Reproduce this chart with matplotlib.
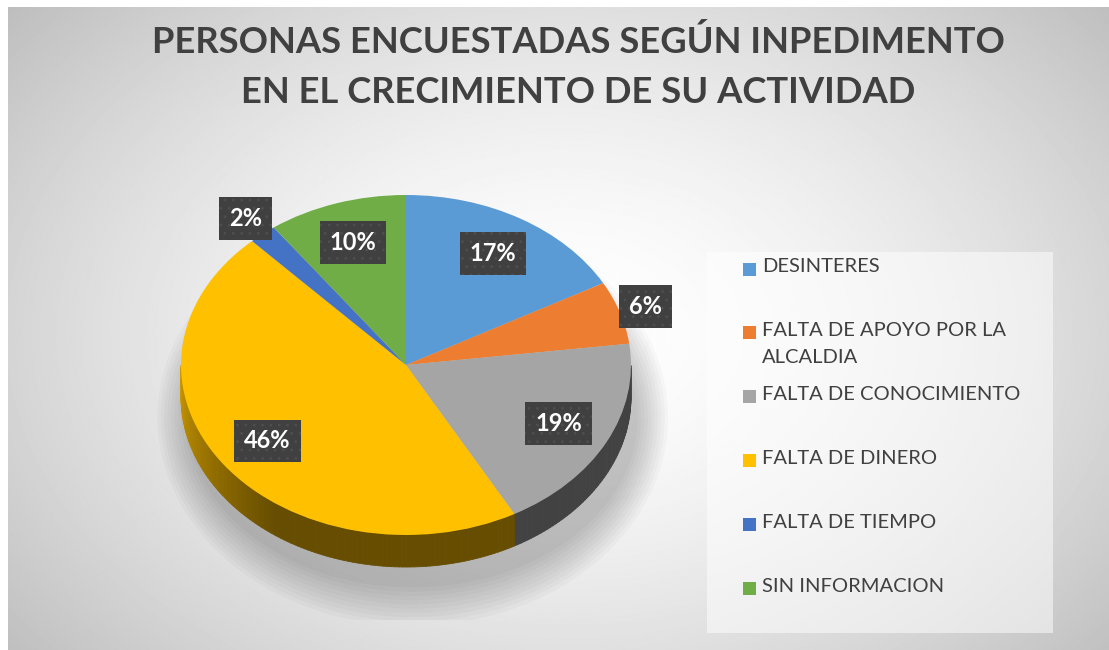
import textwrap
import numpy as np
import matplotlib
matplotlib.use("Agg")
import matplotlib.pyplot as plt
from matplotlib.patches import Rectangle, Ellipse
from matplotlib.collections import PolyCollection
from matplotlib.colors import to_rgb

# data
categories = ["DESINTERES", "FALTA DE APOYO POR LA ALCALDIA", "FALTA DE CONOCIMIENTO",
              "FALTA DE DINERO", "FALTA DE TIEMPO", "SIN INFORMACION"]
percentages = [17, 6, 19, 46, 2, 10]
colors = ["#5B9BD5", "#ED7D31", "#A5A5A5", "#FFC000", "#4472C4", "#70AD47"]
title = "PERSONAS ENCUESTADAS SEGÚN INPEDIMENTO\nEN EL CRECIMIENTO DE SU ACTIVIDAD"

W, H = 1109, 650
plt.rcParams['font.family'] = ['Lato', 'DejaVu Sans']
plt.rcParams['hatch.linewidth'] = 0.8
fig = plt.figure(figsize=(W / 100, H / 100), dpi=100, facecolor="white")

# radial gradient background
bg = fig.add_axes([0, 0, 1, 1])
bg.set_xlim(0, W)
bg.set_ylim(H, 0)
bg.axis("off")
yy, xx = np.mgrid[0:H, 0:W]
d = np.sqrt(((xx - 560) / 600.0) ** 2 + ((yy - 330) / 420.0) ** 2) / 1.2
shade = 1 - 0.25 * np.clip(d, 0, 1.2) ** 1.6
bg.imshow(shade, cmap="gray", vmin=0, vmax=1, extent=(8, W, H, 7),
          aspect="auto", interpolation="bilinear", zorder=0)

# pie axes: ellipse rx=225, ry=170 px centred at (406, 365)
cx, cy, rx, ry, L = 406, 365, 225, 170, 1.5
aw, ah = 2 * L * rx, 2 * L * ry
pax = fig.add_axes([(cx - aw / 2) / W, 1 - (cy + ah / 2) / H, aw / W, ah / H])
pax.patch.set_alpha(0)
depth = 32 / ry

# soft shadow
for k in range(10):
    pax.add_patch(Ellipse((0.03, -0.12 - depth), 2.0 + 0.03 * k, 2.0 + 0.05 * k,
                          facecolor="black", alpha=0.025, lw=0, zorder=1))

wedges, _ = pax.pie(percentages, colors=colors, startangle=90, counterclock=False,
                    wedgeprops=dict(linewidth=0, zorder=5))
pax.set_aspect("auto")
pax.set_xlim(-L, L)
pax.set_ylim(-L, L)
pax.axis("off")

# 3d side of the pie
polys, fcols = [], []
for w, c in zip(wedges, colors):
    base = np.array(to_rgb(c))
    angs = np.arange(w.theta1, w.theta2, 1.0)
    angs = np.append(angs, w.theta2)
    for a, b in zip(angs[:-1], angs[1:]):
        m = np.radians((a + b) / 2)
        if np.sin(m) >= 0:
            continue
        am = np.degrees(m) % 360
        f = 0.40 + 0.40 * np.clip((235 - am) / 55, 0, 1)
        ra, rb = np.radians(a), np.radians(b)
        polys.append([(np.cos(ra), np.sin(ra)), (np.cos(rb), np.sin(rb)),
                      (np.cos(rb), np.sin(rb) - depth), (np.cos(ra), np.sin(ra) - depth)])
        fcols.append(base * f)
pax.add_collection(PolyCollection(polys, facecolors=fcols, edgecolors=fcols,
                                  linewidths=0.6, zorder=3))

# percentage labels
for w, p in zip(wedges, percentages):
    m = np.radians((w.theta1 + w.theta2) / 2)
    r = 0.76 if p >= 7 else 1.12
    pax.text(r * np.cos(m), r * np.sin(m), f"{p}%", ha="center", va="center",
             color="white", fontsize=17, fontweight="bold", zorder=10,
             bbox=dict(boxstyle="square,pad=0.42", facecolor="#404040",
                       edgecolor="#4e4e4e", hatch="..", linewidth=0))

# title
fig.text(578 / W, 1 - 67 / H, title, ha="center", va="center", fontsize=26.2,
         fontweight="bold", color="#404040", linespacing=1.6)

# legend
ov = fig.add_axes([0, 0, 1, 1])
ov.set_xlim(0, W)
ov.set_ylim(H, 0)
ov.axis("off")
ov.patch.set_alpha(0)
ov.add_patch(Rectangle((707, 252), 346, 381, facecolor="white", alpha=0.5, lw=0))
for i, (lab, c) in enumerate(zip(categories, colors)):
    y = 269 + i * 63.8
    ov.add_patch(Rectangle((743, y - 6.5), 13, 13, facecolor=c, lw=0))
    ov.text(762, y - 10.5, textwrap.fill(lab, 21), ha="left", va="top", fontsize=14.5,
            color="#404040", linespacing=1.7)

fig.savefig("out.png", dpi=100, facecolor="white")
